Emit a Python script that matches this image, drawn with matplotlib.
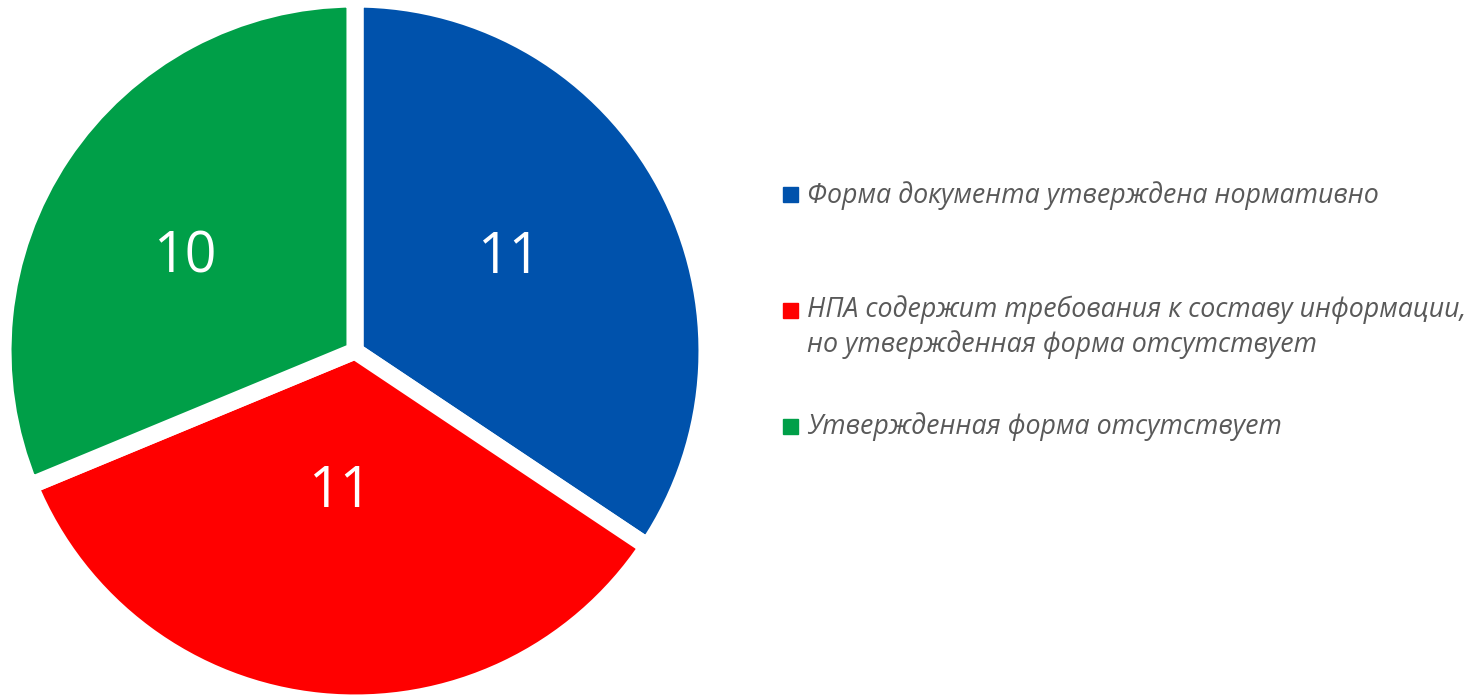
import matplotlib.pyplot as plt
import numpy as np
from matplotlib.patches import Rectangle

plt.rcParams["font.family"] = ["Open Sans", "DejaVu Sans"]

labels = ['Форма документа утверждена нормативно',
          'НПА содержит требования к составу информации,\nно утвержденная форма отсутствует',
          'Утвержденная форма отсутствует']
values = [11, 11, 10]
colors = ['#0052AC', '#FF0000', '#009F48']

W, H = 1481, 696
fig = plt.figure(figsize=(W / 100, H / 100), dpi=100)

# pie: centre (355, 351) px, visible radius ~343 px, white edges eat ~8.5 px
cx, cy, R = 355, 351, 352
ax = fig.add_axes([(cx - R) / W, (H - cy - R) / H, 2 * R / W, 2 * R / H])
wedges, _ = ax.pie(values, colors=colors, startangle=90, counterclock=False,
                   wedgeprops=dict(edgecolor='white', linewidth=12.3))
ax.set_xlim(-1, 1)
ax.set_ylim(-1, 1)
ax.set_aspect('equal')
ax.axis('off')

# value labels placed along each wedge's mid-angle (radius, angle nudge)
label_r = [0.509, 0.403, 0.551]
label_da = [2.8, -0.45, 5.2]
for w, v, r, da in zip(wedges, values, label_r, label_da):
    ang = np.deg2rad((w.theta1 + w.theta2) / 2 + da)
    ax.text(r * np.cos(ang), r * np.sin(ang), str(v), color='white',
            fontsize=40, ha='center', va='center')

# legend (baseline = last line of each entry)
marker_y = [194, 310, 426]
base_y = [203, 352, 434]
for lab, c, my, by in zip(labels, colors, marker_y, base_y):
    fig.patches.append(Rectangle((783 / W, (H - my - 7.5) / H), 15 / W, 15 / H,
                                 transform=fig.transFigure, color=c))
    fig.text(807 / W, (H - by) / H, lab, fontsize=19.3, style='italic',
             color='#595959', ha='left', va='baseline', linespacing=1.29)

fig.savefig('out.png', dpi=100)
